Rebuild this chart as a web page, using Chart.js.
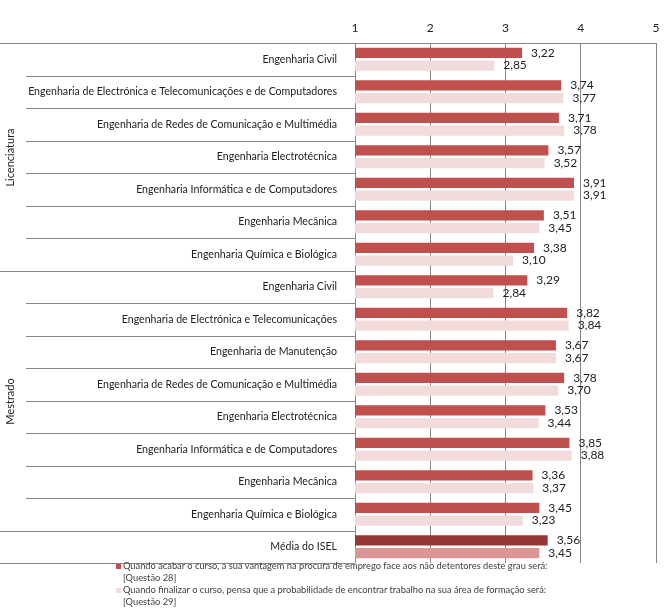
<!DOCTYPE html>
<html>
<head>
<meta charset="utf-8">
<script src="https://cdn.jsdelivr.net/npm/chart.js@4.4.1/dist/chart.umd.min.js"></script>
<style>
  body { margin: 0; background: #fff; }
  #wrap { position: relative; width: 669px; height: 614px; }
  #legend { position: absolute; left: 116px; top: 560px; width: 480px; font: 9.3px Lato, sans-serif; color: #404040; line-height: 12px; }
  .item { padding-left: 7px; position: relative; }
  .item i { position: absolute; left: 0; top: 4px; width: 5px; height: 5px; }
</style>
</head>
<body>
<div id="wrap">
  <canvas id="chart" width="669" height="614"></canvas>
  <div id="legend"></div>
</div>
<script>
// dados
const categories = [
  'Engenharia Civil',
  'Engenharia de Electrónica e Telecomunicações e de Computadores',
  'Engenharia de Redes de Comunicação e Multimédia',
  'Engenharia Electrotécnica',
  'Engenharia Informática e de Computadores',
  'Engenharia Mecânica',
  'Engenharia Química e Biológica',
  'Engenharia Civil',
  'Engenharia de Electrónica e Telecomunicações',
  'Engenharia de Manutenção',
  'Engenharia de Redes de Comunicação e Multimédia',
  'Engenharia Electrotécnica',
  'Engenharia Informática e de Computadores',
  'Engenharia Mecânica',
  'Engenharia Química e Biológica',
  'Média do ISEL'
];
const groupNames = ['Licenciatura', 'Mestrado'];
const groupStart = [0, 7];
const groupEnd = [6, 14];

const questao28 = [3.22, 3.74, 3.71, 3.57, 3.91, 3.51, 3.38, 3.29, 3.82, 3.67, 3.78, 3.53, 3.85, 3.36, 3.45, 3.56];
const questao29 = [2.85, 3.77, 3.78, 3.52, 3.91, 3.45, 3.10, 2.84, 3.84, 3.67, 3.70, 3.44, 3.88, 3.37, 3.23, 3.45];
const xTicks = [1, 2, 3, 4, 5];

const seriesNames = [
  'Quando acabar o curso, a sua vantagem na procura de emprego face aos não detentores deste grau será: [Questão 28]',
  'Quando finalizar o curso, pensa que a probabilidade de encontrar trabalho na sua área de formação será: [Questão 29]'
];

const FONT = 'Lato, sans-serif';
const GRID = '#868686';

// cor da última barra (média) é mais escura
function colours(normal, media) {
  return categories.map((c, i) => i === categories.length - 1 ? media : normal);
}

const extras = {
  id: 'extras',
  afterDatasetsDraw(chart) {
    const ctx = chart.ctx;
    const y = chart.scales.y;
    const area = chart.chartArea;
    const step = y.getPixelForValue(1) - y.getPixelForValue(0);
    const top = i => Math.round(y.getPixelForValue(i) - step / 2) + 0.5;

    ctx.save();
    ctx.strokeStyle = GRID;
    ctx.lineWidth = 1;
    ctx.beginPath();
    ctx.moveTo(0, top(0));
    ctx.lineTo(area.right, top(0));
    for (let i = 1; i < categories.length; i++) {
      const long = groupStart.includes(i) || i === categories.length - 1;
      ctx.moveTo(long ? 0 : 26, top(i));
      ctx.lineTo(area.left, top(i));
    }
    ctx.moveTo(0, top(categories.length));
    ctx.lineTo(area.left, top(categories.length));
    ctx.stroke();

    // rótulos dos grupos
    ctx.fillStyle = '#222';
    ctx.font = '11px ' + FONT;
    ctx.textAlign = 'center';
    ctx.textBaseline = 'middle';
    groupNames.forEach((g, k) => {
      const mid = (top(groupStart[k]) + top(groupEnd[k] + 1)) / 2;
      ctx.save();
      ctx.translate(10, mid);
      ctx.rotate(-Math.PI / 2);
      ctx.fillText(g, 0, 0);
      ctx.restore();
    });

    // valores
    ctx.font = '12px ' + FONT;
    ctx.textAlign = 'left';
    chart.data.datasets.forEach((ds, d) => {
      chart.getDatasetMeta(d).data.forEach((bar, i) => {
        ctx.fillText(ds.data[i].toFixed(2).replace('.', ','), bar.x + 9, bar.y);
      });
    });
    ctx.restore();
  }
};

new Chart(document.getElementById('chart'), {
  type: 'bar',
  data: {
    labels: categories,
    datasets: [
      { label: seriesNames[0], data: questao28, backgroundColor: colours('#C0504D', '#953735') },
      { label: seriesNames[1], data: questao29, backgroundColor: colours('#F2DCDB', '#D99694') }
    ]
  },
  options: {
    indexAxis: 'y',
    responsive: false,
    animation: false,
    devicePixelRatio: 1,
    categoryPercentage: 0.77,
    barPercentage: 0.82,
    layout: { padding: { top: 0, left: 0, right: 13, bottom: 51 } },
    plugins: { legend: { display: false }, tooltip: { enabled: false } },
    scales: {
      x: {
        position: 'top',
        min: 1,
        max: 5,
        afterBuildTicks: s => { s.ticks = xTicks.map(v => ({ value: v })); },
        afterFit: s => { s.height = 43; },
        grid: { color: GRID, drawTicks: false },
        border: { display: false },
        ticks: { color: '#222', padding: 8, font: { family: FONT, size: 12 } }
      },
      y: {
        afterFit: s => { s.width = 355; },
        grid: { display: false },
        border: { display: false },
        ticks: { color: '#222', padding: 10, autoSkip: false, font: { family: FONT, size: 10.6 } }
      }
    }
  },
  plugins: [extras]
});

// legenda
const legendColours = ['#C0504D', '#F2DCDB'];
document.getElementById('legend').innerHTML = seriesNames.map((s, i) => {
  const parts = s.split(' [');
  return `<div class="item"><i style="background:${legendColours[i]}"></i>${parts[0]}<br>[${parts[1]}</div>`;
}).join('');
</script>
</body>
</html>
